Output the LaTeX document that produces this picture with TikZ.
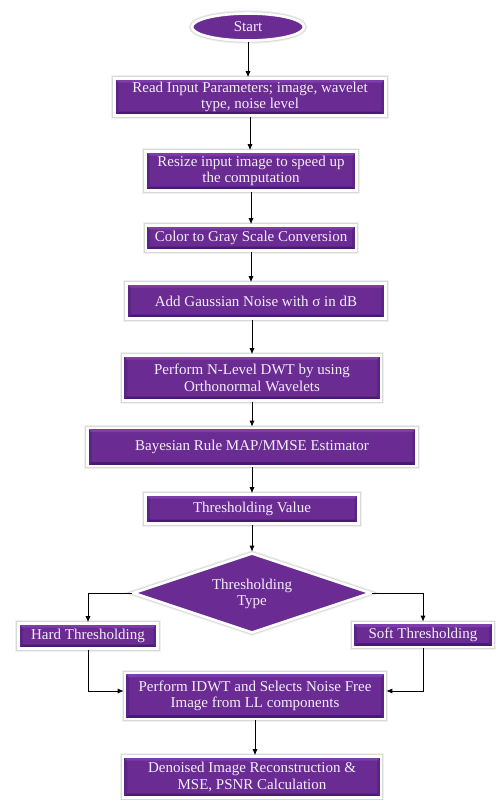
\documentclass[tikz,border=0pt]{standalone}
\usepackage{fontspec}
\setmainfont{Liberation Serif}
\usetikzlibrary{shapes.geometric,arrows.meta,shadows,calc}
\definecolor{pmain}{HTML}{6A2C93}
\definecolor{pdark}{HTML}{4A1A70}
\definecolor{pside}{HTML}{5A2384}
\definecolor{plight}{HTML}{7D3DAA}
\definecolor{ptext}{HTML}{F3EEF8}
\tikzset{
  bevel/.style={path picture={
    \fill[pdark] (path picture bounding box.south west) -- (path picture bounding box.south east)
      -- ([xshift=-4pt,yshift=4pt]path picture bounding box.south east) -- ([xshift=4pt,yshift=4pt]path picture bounding box.south west) -- cycle;
    \fill[pside] (path picture bounding box.south west) -- (path picture bounding box.north west)
      -- ([xshift=4pt,yshift=-4pt]path picture bounding box.north west) -- ([xshift=4pt,yshift=4pt]path picture bounding box.south west) -- cycle;
    \fill[pside] (path picture bounding box.south east) -- (path picture bounding box.north east)
      -- ([xshift=-4pt,yshift=-4pt]path picture bounding box.north east) -- ([xshift=-4pt,yshift=4pt]path picture bounding box.south east) -- cycle;
    \fill[plight] (path picture bounding box.north west) -- (path picture bounding box.north east)
      -- ([xshift=-4pt,yshift=-4pt]path picture bounding box.north east) -- ([xshift=4pt,yshift=-4pt]path picture bounding box.north west) -- cycle;
  }},
  glow/.style={preaction={draw=black!6, line width=6.5pt},
               preaction={draw=black!15, line width=4.4pt}},
  stepbox/.style={rectangle, glow, fill=pmain, draw=white, line width=2.6pt, bevel,
    text=ptext, align=center, inner sep=2pt,
    font=\fontsize{15}{16.5}\selectfont},
  startnode/.style={ellipse, glow, fill=pmain, draw=white, line width=2.6pt,
    text=ptext, inner sep=0pt, font=\fontsize{15}{16.5}\selectfont},
  dianode/.style={diamond, glow, fill=pmain, draw=white, line width=2.6pt, inner sep=0pt},
  diatext/.style={text=ptext, align=center, inner sep=0pt, font=\fontsize{15}{16.5}\selectfont},
  arr/.style={draw=black, line width=0.8pt, -{Latex[length=6pt,width=5pt]}},
}
\begin{document}
\begin{tikzpicture}[x=1pt,y=-1pt]
\useasboundingbox (0,0) rectangle (499,800);
\fill[white] (0,0) rectangle (499,800);

\node[startnode, minimum width=112pt, minimum height=27pt] (start) at (248,27) {Start};
\node[stepbox, minimum width=271pt, minimum height=37pt] (b1) at (250,97) {Read Input Parameters; image, wavelet\\type, noise level};
\node[stepbox, minimum width=211pt, minimum height=39pt] (b2) at (251,171) {Resize input image to speed up\\the computation};
\node[stepbox, minimum width=210pt, minimum height=25pt] (b3) at (251,238) {Color to Gray Scale Conversion};
\node[stepbox, minimum width=259pt, minimum height=35pt] (b4) at (256,301) {Add Gaussian Noise with σ in dB};
\node[stepbox, minimum width=258pt, minimum height=45pt] (b5) at (252,378) {Perform N-Level DWT by using\\Orthonormal Wavelets};
\node[stepbox, minimum width=329pt, minimum height=38pt] (b6) at (252,447) {Bayesian Rule MAP/MMSE Estimator};
\node[stepbox, minimum width=213pt, minimum height=29pt] (b7) at (252,509) {Thresholding Value};
\node[dianode, minimum width=238pt, minimum height=80pt] (dia) at (252,593) {};
\node[diatext] (diat) at (252,594) {Thresholding\\Type};
\node[stepbox, minimum width=139pt, minimum height=25pt] (hard) at (88,636) {Hard Thresholding};
\node[stepbox, minimum width=140pt, minimum height=24pt] (soft) at (423,635) {Soft Thresholding};
\node[stepbox, minimum width=260pt, minimum height=46pt] (b8) at (255,696) {Perform IDWT and Selects Noise Free\\Image from LL components};
\node[stepbox, minimum width=258pt, minimum height=41pt] (b9) at (252,777) {Denoised Image Reconstruction \&\\MSE, PSNR Calculation};

\draw[arr] (start.south) -- (start.south |- b1.north);
\draw[arr] (b1.south) -- (b1.south |- b2.north);
\draw[arr] (b2.south) -- (b2.south |- b3.north);
\draw[arr] (b3.south) -- (b3.south |- b4.north);
\draw[arr] ([xshift=-4pt]b4.south) -- ([xshift=-4pt]b4.south |- b5.north);
\draw[arr] (b5.south) -- (b5.south |- b6.north);
\draw[arr] (b6.south) -- (b6.south |- b7.north);
\draw[arr] (b7.south) -- (b7.south |- dia.north);
\draw[arr] (dia.west) -| (hard.north);
\draw[arr] (dia.east) -| (soft.north);
\draw[arr] (hard.south) |- ([yshift=5pt]b8.west);
\draw[arr] (soft.south) |- ([yshift=5pt]b8.east);
\draw[arr] (b8.south) -- (b8.south |- b9.north);
\end{tikzpicture}
\end{document}
